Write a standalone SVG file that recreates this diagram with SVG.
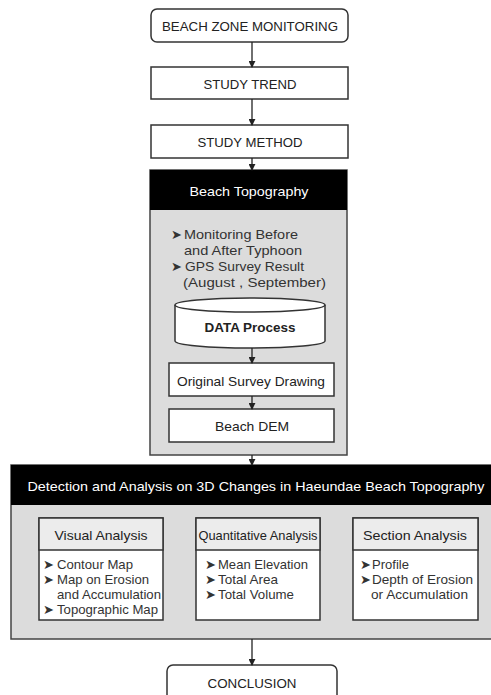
<svg xmlns="http://www.w3.org/2000/svg" width="491" height="695" viewBox="0 0 491 695">
  <defs>
    <marker id="arrow" viewBox="0 0 8 8" refX="7" refY="4" markerWidth="7" markerHeight="7" markerUnits="userSpaceOnUse" orient="auto">
      <path d="M0,0 L8,4 L0,8 z" fill="#222"/>
    </marker>
    <style>
      text { font-family: "Liberation Sans", Arial, sans-serif; fill: #222; }
      .box { fill: #fff; stroke: #333; stroke-width: 1.5; }
      .panel { fill: #dcdcdc; stroke: #444; stroke-width: 1.5; }
      .bar { fill: #000; }
      .hdr { fill: #ececec; stroke: #333; stroke-width: 1.5; }
      .t { font-size: 13px; text-anchor: middle; dominant-baseline: central; }
      .w { fill: #fff; }
      .b { font-weight: bold; }
      .li { font-size: 13px; fill: #333; }
      .conn { stroke: #222; stroke-width: 1.3; fill: none; marker-end: url(#arrow); }
    </style>
  </defs>
  <rect width="491" height="695" fill="#fff"/>

  <g id="beach-zone-monitoring">
    <rect class="box" x="151" y="9" width="197" height="33" rx="6"/>
    <text class="t" x="250" y="26" textLength="176" lengthAdjust="spacingAndGlyphs">BEACH ZONE MONITORING</text>
  </g>

  <g id="study-trend">
    <rect class="box" x="151" y="67" width="197" height="32"/>
    <text class="t" x="250" y="84" textLength="93" lengthAdjust="spacingAndGlyphs">STUDY TREND</text>
  </g>

  <g id="study-method">
    <rect class="box" x="151" y="125" width="197" height="33"/>
    <text class="t" x="250" y="142" textLength="105" lengthAdjust="spacingAndGlyphs">STUDY METHOD</text>
  </g>

  <g id="beach-topography">
    <rect class="panel" x="150" y="170" width="197" height="285"/>
    <rect class="bar" x="150" y="170" width="197" height="40"/>
    <text class="t w" x="249" y="191" textLength="119" lengthAdjust="spacingAndGlyphs">Beach Topography</text>
    <text class="li" x="171" y="239">➤</text>
    <text class="li" x="184" y="239" textLength="114" lengthAdjust="spacingAndGlyphs">Monitoring Before</text>
    <text class="li" x="184" y="255" textLength="118" lengthAdjust="spacingAndGlyphs">and After Typhoon</text>
    <text class="li" x="171" y="271">➤</text>
    <text class="li" x="185" y="271" textLength="119" lengthAdjust="spacingAndGlyphs">GPS Survey Result</text>
    <text class="li" x="183" y="287" textLength="143" lengthAdjust="spacingAndGlyphs">(August , September)</text>
  </g>

  <g id="data-process">
    <path class="box" d="M175,305 A75,7 0 0 1 325,305 V341 A75,7 0 0 1 175,341 Z"/>
    <path d="M175,305 A75,7 0 0 0 325,305" fill="none" stroke="#333" stroke-width="1.5"/>
    <text class="t b" x="250" y="327" textLength="91" lengthAdjust="spacingAndGlyphs">DATA Process</text>
  </g>

  <g id="original-survey-drawing">
    <rect class="box" x="169" y="363" width="165" height="33"/>
    <text class="t" x="251" y="381" textLength="148" lengthAdjust="spacingAndGlyphs">Original Survey Drawing</text>
  </g>

  <g id="beach-dem">
    <rect class="box" x="169" y="409" width="165" height="33"/>
    <text class="t" x="252" y="426" textLength="74" lengthAdjust="spacingAndGlyphs">Beach DEM</text>
  </g>

  <g id="detection-analysis">
    <rect class="panel" x="11" y="465" width="482" height="174"/>
    <rect class="bar" x="11" y="465" width="480" height="40"/>
    <text class="t w" x="256" y="486" textLength="457" lengthAdjust="spacingAndGlyphs">Detection and Analysis on 3D Changes in Haeundae Beach Topography</text>
  </g>

  <g id="visual-analysis">
    <rect class="box" x="39" y="518" width="124" height="102"/>
    <rect class="hdr" x="39" y="518" width="124" height="32"/>
    <text class="t" x="101" y="535" textLength="93" lengthAdjust="spacingAndGlyphs">Visual Analysis</text>
    <text class="li" x="43" y="569">➤</text>
    <text class="li" x="57" y="569" textLength="76" lengthAdjust="spacingAndGlyphs">Contour Map</text>
    <text class="li" x="43" y="584">➤</text>
    <text class="li" x="57" y="584" textLength="92" lengthAdjust="spacingAndGlyphs">Map on Erosion</text>
    <text class="li" x="57" y="599" textLength="104" lengthAdjust="spacingAndGlyphs">and Accumulation</text>
    <text class="li" x="43" y="614">➤</text>
    <text class="li" x="57" y="614" textLength="101" lengthAdjust="spacingAndGlyphs">Topographic Map</text>
  </g>

  <g id="quantitative-analysis">
    <rect class="box" x="196" y="518" width="124" height="102"/>
    <rect class="hdr" x="196" y="518" width="124" height="32"/>
    <text class="t" x="258" y="535" textLength="119" lengthAdjust="spacingAndGlyphs">Quantitative Analysis</text>
    <text class="li" x="205" y="569">➤</text>
    <text class="li" x="218" y="569" textLength="90" lengthAdjust="spacingAndGlyphs">Mean Elevation</text>
    <text class="li" x="205" y="584">➤</text>
    <text class="li" x="218" y="584" textLength="60" lengthAdjust="spacingAndGlyphs">Total Area</text>
    <text class="li" x="205" y="599">➤</text>
    <text class="li" x="218" y="599" textLength="76" lengthAdjust="spacingAndGlyphs">Total Volume</text>
  </g>

  <g id="section-analysis">
    <rect class="box" x="353" y="518" width="125" height="102"/>
    <rect class="hdr" x="353" y="518" width="125" height="32"/>
    <text class="t" x="415" y="535" textLength="104" lengthAdjust="spacingAndGlyphs">Section Analysis</text>
    <text class="li" x="360" y="569">➤</text>
    <text class="li" x="372" y="569" textLength="37" lengthAdjust="spacingAndGlyphs">Profile</text>
    <text class="li" x="360" y="584">➤</text>
    <text class="li" x="372" y="584" textLength="101" lengthAdjust="spacingAndGlyphs">Depth of Erosion</text>
    <text class="li" x="371" y="599" textLength="97" lengthAdjust="spacingAndGlyphs">or Accumulation</text>
  </g>

  <g id="conclusion">
    <rect class="box" x="167" y="665" width="170" height="40" rx="6"/>
    <text class="t" x="252" y="683" textLength="89" lengthAdjust="spacingAndGlyphs">CONCLUSION</text>
  </g>

  <!-- connectors, drawn last so they sit above the panels -->
  <g id="connectors">
    <line class="conn" x1="252" y1="42" x2="252" y2="67"/>
    <line class="conn" x1="252" y1="99" x2="252" y2="125"/>
    <line class="conn" x1="252" y1="158" x2="252" y2="170"/>
    <line class="conn" x1="252" y1="348" x2="252" y2="363"/>
    <line class="conn" x1="252" y1="396" x2="252" y2="409"/>
    <line class="conn" x1="252" y1="455" x2="252" y2="465"/>
    <line class="conn" x1="252" y1="639" x2="252" y2="665"/>
  </g>
</svg>
